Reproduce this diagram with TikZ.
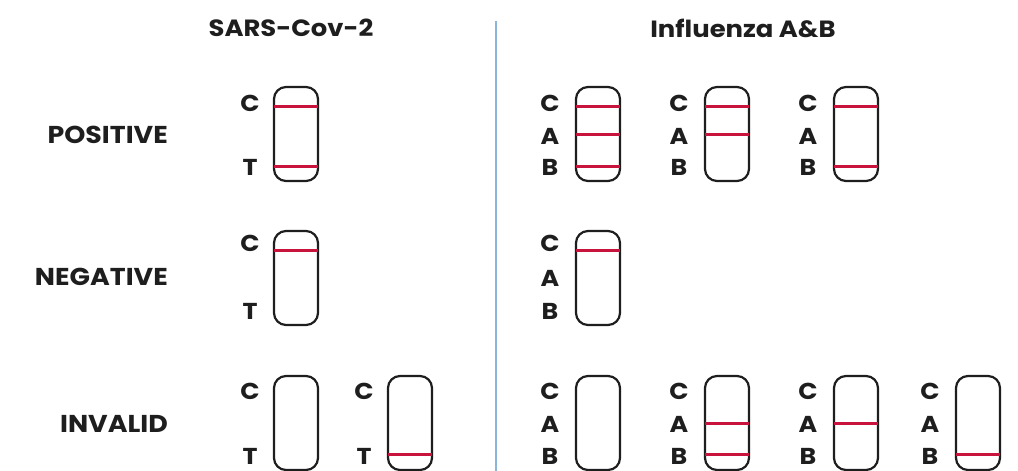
\documentclass[tikz,border=0pt]{standalone}
\usepackage{fontspec}
\setmainfont{Poppins}[BoldFont={Poppins Bold}, FakeStretch=1.1]
\definecolor{bandred}{HTML}{C8143C}
\definecolor{divblue}{HTML}{8AB6DC}
\definecolor{ink}{HTML}{1E1E1E}
\tikzset{
  x=1pt, y=-1pt,
  strip/.style={draw=ink, line width=2.2pt, rounded corners=12pt,
    minimum width=44pt, minimum height=94pt, inner sep=0pt, fill=white},
  band/.style={draw=bandred, line width=3pt},
  lbl/.style={font=\fontsize{23}{24}\selectfont\bfseries, text=ink, inner sep=0pt},
  rowlbl/.style={font=\fontsize{24.4}{25}\selectfont\bfseries, text=ink, inner sep=0pt, anchor=east},
  head/.style={font=\fontsize{23.5}{24}\selectfont\bfseries, text=ink, inner sep=0pt},
}
% red band at a given depth below the strip top
\newcommand{\bandat}[2]{\draw[band] ([yshift=-#2pt,xshift=1pt]#1.north west) -- ([yshift=-#2pt,xshift=-1pt]#1.north east);}
\begin{document}
\begin{tikzpicture}
\useasboundingbox (0,0) rectangle (1018,471);

% headers and divider
\node[head] (hs) at (291,28) {SARS-Cov-2};
\node[head] (hf) at (743,28) {Influenza A\&B};
\coordinate (dtop) at (496,21);
\coordinate (dbot) at (496,471);
\draw[divblue, line width=2.2pt] (dtop) -- (dbot);

% row labels
\node[rowlbl] (rpos) at (168,135) {POSITIVE};
\node[rowlbl] (rneg) at (168,277) {NEGATIVE};
\node[rowlbl] (rinv) at (168,424) {INVALID};

% ---- positive row ----
\node[strip] (p1) at (296,134) {};
\bandat{p1}{21} \bandat{p1}{81}
\node[lbl] (p1c) at (250,103) {C};
\node[lbl] (p1t) at (250,167) {T};

\foreach \n/\x in {p2/598, p3/727, p4/856} {
  \node[strip] (\n) at (\x,134) {};
  \node[lbl] (\n c) at (\x-48,103) {C};
  \node[lbl] (\n a) at (\x-48,136) {A};
  \node[lbl] (\n b) at (\x-48,167) {B};
}
\bandat{p2}{21} \bandat{p2}{49} \bandat{p2}{81}
\bandat{p3}{21} \bandat{p3}{49}
\bandat{p4}{21} \bandat{p4}{81}

% ---- negative row ----
\node[strip] (n1) at (296,278) {};
\bandat{n1}{21}
\node[lbl] (n1c) at (250,243) {C};
\node[lbl] (n1t) at (250,311) {T};

\node[strip] (n2) at (598,278) {};
\bandat{n2}{21}
\node[lbl] (n2c) at (550,243) {C};
\node[lbl] (n2a) at (550,278) {A};
\node[lbl] (n2b) at (550,311) {B};

% ---- invalid row ----
\node[strip] (i1) at (296,423) {};
\node[lbl] (i1c) at (250,391) {C};
\node[lbl] (i1t) at (250,456) {T};
\node[strip] (i2) at (410,423) {};
\bandat{i2}{80}
\node[lbl] (i2c) at (364,391) {C};
\node[lbl] (i2t) at (364,456) {T};

\foreach \n/\x in {i3/598, i4/727, i5/856, i6/978} {
  \node[strip] (\n) at (\x,423) {};
  \node[lbl] (\n c) at (\x-48,391) {C};
  \node[lbl] (\n a) at (\x-48,424) {A};
  \node[lbl] (\n b) at (\x-48,456) {B};
}
\bandat{i4}{49} \bandat{i4}{80}
\bandat{i5}{49}
\bandat{i6}{80}
\end{tikzpicture}
\end{document}
